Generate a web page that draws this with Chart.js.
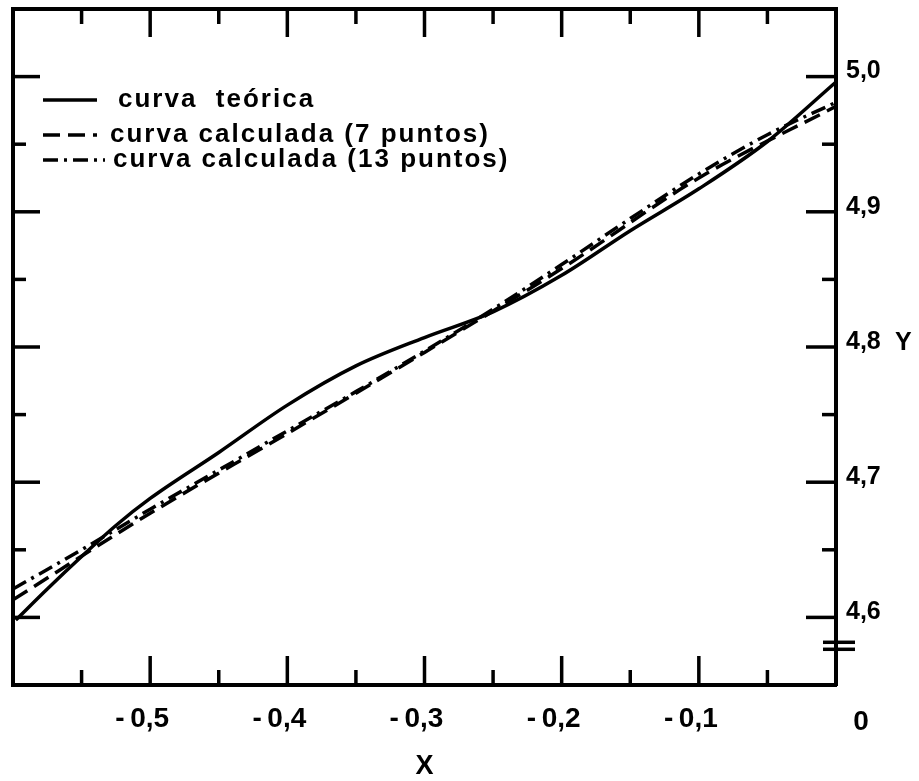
<!DOCTYPE html>
<html>
<head>
<meta charset="utf-8">
<script src="https://cdn.jsdelivr.net/npm/chart.js@4/dist/chart.umd.min.js"></script>
<style>
  html, body { margin: 0; background: #fff; }
</style>
</head>
<body>
<canvas id="grafico" width="919" height="781"></canvas>
<script>
// curva teórica
const xTeorica = [-0.598, -0.575, -0.55, -0.525, -0.5, -0.45, -0.4, -0.35, -0.3, -0.25, -0.2, -0.15, -0.1, -0.05, 0];
const yTeorica = [4.598, 4.621, 4.645, 4.668, 4.688, 4.722, 4.757, 4.786, 4.807, 4.826, 4.853, 4.886, 4.917, 4.952, 4.996];

// curva calculada (7 puntos)
const x7 = [-0.6, -0.5, -0.4, -0.3, -0.2, -0.1, 0];
const y7 = [4.613, 4.677, 4.736, 4.796, 4.858, 4.925, 4.978];

// curva calculada (13 puntos)
const x13 = [-0.6, -0.55, -0.5, -0.45, -0.4, -0.35, -0.3, -0.25, -0.2, -0.15, -0.1, -0.05, 0];
const y13 = [4.621, 4.650, 4.680, 4.709, 4.738, 4.767, 4.797, 4.828, 4.861, 4.895, 4.928, 4.957, 4.981];

// ejes
const xTicks = [-0.5, -0.4, -0.3, -0.2, -0.1];
const xTickLabels = ['-\u20090,5', '-\u20090,4', '-\u20090,3', '-\u20090,2', '-\u20090,1'];
const xMenores = [-0.55, -0.45, -0.35, -0.25, -0.15, -0.05];
const yTicks = [4.6, 4.7, 4.8, 4.9, 5.0];
const yTickLabels = ['4,6', '4,7', '4,8', '4,9', '5,0'];
const yMenores = [4.65, 4.75, 4.85, 4.95];
const yCorte = 4.579; // marca de eje interrumpido

const FUENTE = '"Liberation Sans", Arial, sans-serif';
const pares = (xs, ys) => xs.map((x, i) => ({ x: x, y: ys[i] }));

// marcas hacia adentro, corte del eje, "0", "Y" y leyenda
const marcasPlugin = {
  id: 'marcas',
  afterDraw(chart) {
    const { ctx, chartArea: a, scales } = chart;
    const sx = scales.x, sy = scales.y;
    const linea = (x1, y1, x2, y2) => {
      ctx.beginPath(); ctx.moveTo(x1, y1); ctx.lineTo(x2, y2); ctx.stroke();
    };
    ctx.save();
    ctx.strokeStyle = '#000';
    ctx.lineWidth = 3.5;

    xTicks.forEach(v => {
      const p = sx.getPixelForValue(v);
      linea(p, a.bottom, p, a.bottom - 29);
      linea(p, a.top, p, a.top + 28);
    });
    xMenores.forEach(v => {
      const p = sx.getPixelForValue(v);
      linea(p, a.bottom, p, a.bottom - 15);
      linea(p, a.top, p, a.top + 15);
    });
    yTicks.forEach(v => {
      const p = sy.getPixelForValue(v);
      linea(a.right, p, a.right - 30, p);
      linea(a.left, p, a.left + 27, p);
    });
    yMenores.forEach(v => {
      const p = sy.getPixelForValue(v);
      linea(a.right, p, a.right - 14, p);
      linea(a.left, p, a.left + 13, p);
    });

    // eje Y interrumpido
    const pc = sy.getPixelForValue(yCorte);
    linea(a.right - 13, pc - 3.5, a.right + 19, pc - 3.5);
    linea(a.right - 13, pc + 3.5, a.right + 19, pc + 3.5);

    // textos sueltos
    ctx.fillStyle = '#000';
    ctx.font = 'bold 28px ' + FUENTE;
    ctx.textAlign = 'center';
    ctx.textBaseline = 'middle';
    ctx.fillText('0', sx.getPixelForValue(0) + 25, 722);
    ctx.font = 'bold 25px ' + FUENTE;
    ctx.textAlign = 'left';
    ctx.fillText('Y', a.right + 59, sy.getPixelForValue(4.8) - 4);

    // leyenda
    const filas = [
      { y: 100, x1: 43, x2: 97, tx: 118 },
      { y: 135, x1: 43, x2: 97, tx: 110 },
      { y: 160, x1: 43, x2: 105, tx: 113 }
    ];
    ctx.font = 'bold 26px ' + FUENTE;
    ctx.letterSpacing = '2px';
    chart.data.datasets.forEach((ds, i) => {
      const f = filas[i];
      ctx.setLineDash(ds.borderDash || []);
      ctx.lineWidth = 3.5;
      linea(f.x1, f.y, f.x2, f.y);
      ctx.setLineDash([]);
      ctx.fillText(ds.label, f.tx, f.y);
    });
    ctx.restore();
  }
};

const ctx = document.getElementById('grafico').getContext('2d');
new Chart(ctx, {
  type: 'scatter',
  data: {
    datasets: [
      {
        label: 'curva  teórica',
        data: pares(xTeorica, yTeorica),
        borderColor: '#000',
        borderWidth: 3.5,
        borderDash: [],
        showLine: true,
        pointRadius: 0,
        cubicInterpolationMode: 'monotone'
      },
      {
        label: 'curva calculada (7 puntos)',
        data: pares(x7, y7),
        borderColor: '#000',
        borderWidth: 3.5,
        borderDash: [17, 8],
        showLine: true,
        pointRadius: 0,
        cubicInterpolationMode: 'monotone'
      },
      {
        label: 'curva calculada (13 puntos)',
        data: pares(x13, y13),
        borderColor: '#000',
        borderWidth: 3.5,
        borderDash: [15, 6, 3, 6],
        showLine: true,
        pointRadius: 0,
        cubicInterpolationMode: 'monotone'
      }
    ]
  },
  options: {
    responsive: false,
    animation: false,
    devicePixelRatio: 1,
    layout: { padding: 0 },
    plugins: {
      legend: { display: false },
      tooltip: { enabled: false }
    },
    scales: {
      x: {
        type: 'linear',
        position: 'bottom',
        min: -0.6,
        max: 0,
        afterBuildTicks: s => { s.ticks = xTicks.map(v => ({ value: v })); },
        afterFit: s => { s.height = 96; s.paddingLeft = 0; s.paddingRight = 0; },
        ticks: {
          callback: (v, i) => xTickLabels[i],
          color: '#000',
          font: { family: FUENTE, size: 28, weight: 'bold' },
          padding: 17,
          labelOffset: -8,
          maxRotation: 0,
          autoSkip: false
        },
        grid: { display: false, drawTicks: false },
        border: { display: true, color: '#000', width: 4 },
        title: {
          display: true,
          text: 'X',
          color: '#000',
          font: { family: FUENTE, size: 27, weight: 'bold', lineHeight: 1.0 },
          padding: { top: 0, bottom: 1 }
        }
      },
      xArriba: {
        type: 'linear',
        position: 'top',
        min: -0.6,
        max: 0,
        afterFit: s => { s.height = 9; s.paddingLeft = 0; s.paddingRight = 0; },
        ticks: { display: false },
        grid: { display: false, drawTicks: false },
        border: { display: true, color: '#000', width: 4 }
      },
      y: {
        type: 'linear',
        position: 'right',
        min: 4.55,
        max: 5.05,
        afterBuildTicks: s => { s.ticks = yTicks.map(v => ({ value: v })); },
        afterFit: s => { s.width = 83; s.paddingTop = 0; s.paddingBottom = 0; },
        ticks: {
          callback: (v, i) => yTickLabels[i],
          color: '#000',
          font: { family: FUENTE, size: 25, weight: 'bold' },
          padding: 10,
          labelOffset: -5,
          autoSkip: false
        },
        grid: { display: false, drawTicks: false },
        border: { display: true, color: '#000', width: 4 }
      },
      yIzq: {
        type: 'linear',
        position: 'left',
        min: 4.55,
        max: 5.05,
        afterFit: s => { s.width = 13; s.paddingTop = 0; s.paddingBottom = 0; },
        ticks: { display: false },
        grid: { display: false, drawTicks: false },
        border: { display: true, color: '#000', width: 4 }
      }
    }
  },
  plugins: [marcasPlugin]
});
</script>
</body>
</html>
